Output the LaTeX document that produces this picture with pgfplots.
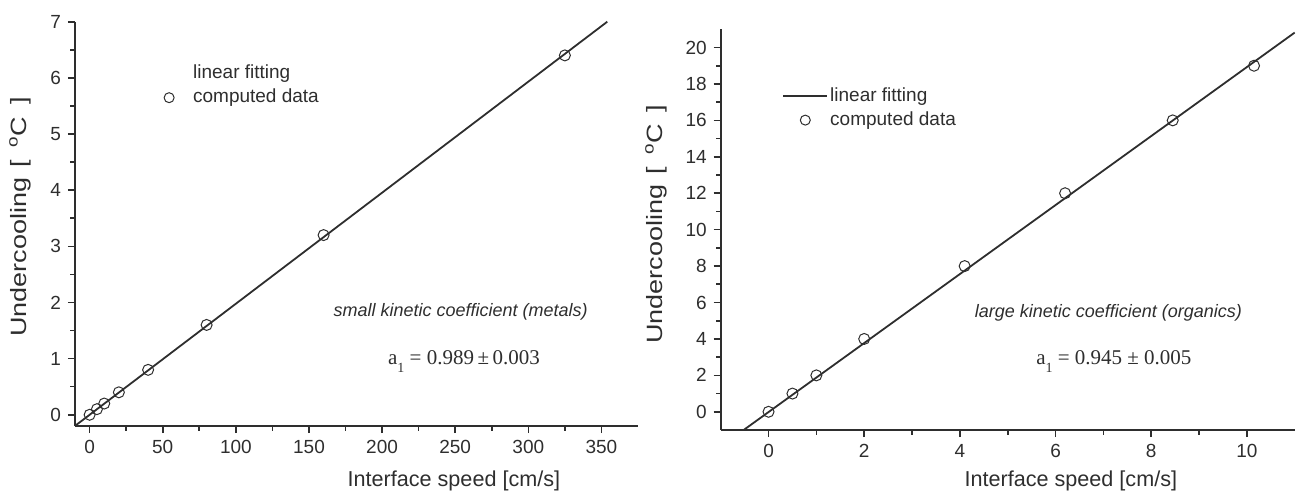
\documentclass[border=0pt]{standalone}
\usepackage{pgfplots}
\pgfplotsset{compat=1.18}
\usepackage{fontspec}
\setmainfont{Liberation Sans}
\newfontfamily\seriffont{Liberation Serif}
\definecolor{ink}{gray}{0.18}

\pgfplotsset{
  myaxis/.style={
    scale only axis,
    axis x line=bottom, axis y line=left,
    axis line style={-, line width=0.9pt, ink},
    tick align=outside,
    major tick length=3.5pt, minor tick length=2.3pt,
    every tick/.style={ink, line width=0.8pt},
    tick label style={font=\fontsize{9.5}{10}\selectfont, text=ink},
    /pgf/number format/assume math mode=true,
    clip=false,
    legend cell align=left,
    legend style={draw=none, fill=none, inner sep=0pt, anchor=north west,
      nodes={inner sep=1pt, text height=7pt, text depth=2pt, font=\fontsize{9.5}{11}\selectfont, text=ink},
      row sep=1pt, column sep=0pt},
    xlabel style={font=\fontsize{10.8}{12}\selectfont, text=ink},
    ylabel style={font=\fontsize{13.5}{15}\selectfont, text=ink},
  },
  noimg/.style={legend image code/.code={\path[draw=none,fill=none] (0pt,-1pt) rectangle (22pt,1pt);}},
  lineimg/.style={legend image code/.code={\draw[line width=0.9pt, ink] (0pt,0pt) -- (22pt,0pt);}},
  circimg/.style={legend image code/.code={\path[draw=none,fill=none] (0pt,-1pt) rectangle (22pt,1pt); \draw[line width=0.5pt, ink] (11pt,0pt) circle (2.5pt);}},
}
\newcommand{\ylab}{\scalebox{1}[0.82]{Undercooling\hspace{5pt}[\hspace{6pt}\textsuperscript{o}C\hspace{6pt}]}}

\begin{document}
\begin{tikzpicture}
\useasboundingbox (0,0) rectangle (649pt,247pt);

% ---------------- left panel ----------------
\begin{axis}[myaxis,
  at={(37.5pt,34pt)}, anchor=south west,
  width=281.5pt, height=202.15pt,
  xmin=-10, xmax=375, ymin=-0.2, ymax=7,
  xtick={0,50,...,350}, minor x tick num=1,
  ytick={0,1,...,7}, minor y tick num=1,
  xlabel={Interface speed [cm/s]},
  ylabel={\ylab},
  xlabel style={at={(axis description cs:0.673,-0.150)}, anchor=base},
  ylabel style={at={(axis description cs:-0.0977,0.517)}, anchor=center},
  legend style={at={(axis description cs:0.1274,0.8996)}},
]
\addplot[ink, line width=0.9pt, forget plot] coordinates {(-10,-0.198) (354,7)};
\addplot[only marks, mark=o, mark size=2.75pt, ink, mark options={line width=0.5pt}, forget plot]
  coordinates {(0,0) (5,0.1) (10,0.2) (20,0.4) (40,0.8) (80,1.6) (160,3.2) (325,6.4)};
\addlegendimage{noimg}
\addlegendentry{linear fitting}
\addlegendimage{circimg}
\addlegendentry{computed data}
\node[font=\itshape\fontsize{9}{10}\selectfont, text=ink] at (axis cs:253.7,1.835) {small kinetic coefficient (metals)};
\node[anchor=base, font=\seriffont\fontsize{10.5}{12}\selectfont, text=ink] at (axis cs:256,0.90)
  {a\raisebox{-0.9ex}{\fontsize{7}{8}\selectfont 1} = 0.989\,±\,0.003};
\end{axis}

% ---------------- right panel ----------------
\begin{axis}[myaxis,
  at={(360.35pt,32pt)}, anchor=south west,
  width=287pt, height=200.35pt,
  xmin=-1, xmax=11, ymin=-1, ymax=21,
  xtick={0,2,...,10}, minor x tick num=1,
  ytick={0,2,...,20}, minor y tick num=1,
  xlabel={Interface speed [cm/s]},
  ylabel={\ylab},
  xlabel style={at={(axis description cs:0.61,-0.1415)}, anchor=base},
  ylabel style={at={(axis description cs:-0.1127,0.514)}, anchor=center},
  legend style={at={(axis description cs:0.1068,0.8617)}},
]
\addplot[ink, line width=0.9pt, forget plot] coordinates {(-0.52,-1) (11,20.82)};
\addplot[only marks, mark=o, mark size=2.75pt, ink, mark options={line width=0.5pt}, forget plot]
  coordinates {(0,0) (0.5,1) (1,2) (2,4) (4.1,8) (6.2,12) (8.45,16) (10.15,19)};
\addlegendimage{lineimg}
\addlegendentry{linear fitting}
\addlegendimage{circimg}
\addlegendentry{computed data}
\node[font=\itshape\fontsize{9}{10}\selectfont, text=ink] at (axis cs:7.105,5.41) {large kinetic coefficient (organics)};
\node[anchor=base, font=\seriffont\fontsize{10.5}{12}\selectfont, text=ink] at (axis cs:7.22,2.61)
  {a\raisebox{-0.9ex}{\fontsize{7}{8}\selectfont 1} = 0.945 ± 0.005};
\end{axis}
\end{tikzpicture}
\end{document}
